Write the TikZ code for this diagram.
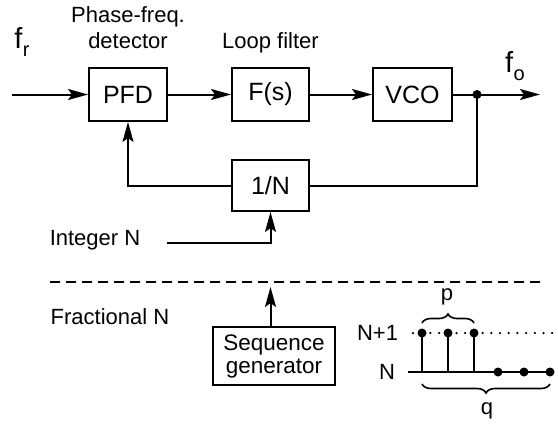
\documentclass[tikz,border=0pt]{standalone}
\usepackage{fontspec}
\setmainfont{Liberation Sans}
\usetikzlibrary{arrows.meta,decorations.pathreplacing,calc}
\begin{document}
\begin{tikzpicture}[x=1pt,y=-1pt,
  line width=2pt,
  blk/.style={draw,minimum height=53pt,inner sep=0pt,font=\fontsize{25}{29}\selectfont},
  lbl/.style={font=\fontsize{22}{26}\selectfont,inner sep=0pt,align=center},
  big/.style={font=\fontsize{29}{32}\selectfont,inner sep=0pt},
  arr/.style={-{Stealth[length=20pt,width=11pt,inset=4pt]}},
  jdot/.style={circle,fill,inner sep=0pt,minimum size=9pt},
  brc/.style={decorate,decoration={brace,amplitude=9pt},line width=1.6pt}]
\useasboundingbox (0,0) rectangle (558,426);
% blocks
\node[blk,minimum width=78pt] (pfd) at (128,94.5) {PFD};
\node[blk,minimum width=77pt] (fs) at (270.5,94.5) {F(s)};
\node[blk,minimum width=79pt] (vco) at (412.5,94.5) {VCO};
\node[blk,minimum width=77pt,minimum height=51pt] (oneN) at (270.5,185.5) {1/N};
\node[blk,minimum width=122pt,minimum height=58pt,align=center,font=\fontsize{22.5}{26}\selectfont] (seq) at (274,356) {Sequence\\[-3pt]generator};
% labels
\node[lbl] (lpfd) at (128,28) {Phase-freq.\\[0pt]detector};
\node[lbl] (llf) at (270.5,43) {Loop filter};
\node[big] (fr) at (22,42) {f\kern0.5pt\raisebox{-8pt}{\fontsize{20}{21}\selectfont r}};
\node[big] (fo) at (515,66) {f\kern0.5pt\raisebox{-8pt}{\fontsize{20}{21}\selectfont o}};
\node[lbl] (intN) at (95,240) {Integer N};
\node[lbl] (fracN) at (110,317) {Fractional N};
% coordinates
\coordinate (in) at (12,94.5);
\coordinate (j) at (477,94.5);
\coordinate (out) at (540,94.5);
\coordinate (ist) at (167,243);
\coordinate (dl1) at (50,282);
\coordinate (dl2) at (540,282);
\coordinate (sqt) at (270.5,287);
% forward path
\draw[arr] (in) -- (pfd.west);
\draw[arr] (pfd.east) -- (fs.west);
\draw[arr] (fs.east) -- (vco.west);
\draw[arr] (vco.east) -- (out);
\node[jdot] (jd) at (j) {};
% feedback
\draw (j) |- (oneN.east);
\draw[arr] (oneN.west) -| (pfd.south);
\draw[arr] (ist) -| (oneN.south);
% divider
\draw[dash pattern=on 10pt off 6pt] (dl1) -- (dl2);
\draw[arr] (seq.north -| sqt) -- (sqt);
% sequence plot
\node[lbl,anchor=east] (np1) at (399,333) {N+1};
\node[lbl,anchor=east] (nn) at (396,372) {N};
\draw[line width=2.5pt,line cap=round,dash pattern=on 0pt off 8.7pt] (413,333) -- (558,333);
\draw (408,372) -- (553,372);
\foreach \x in {422,448,474} {
  \draw (\x,333) -- (\x,372);
  \node[jdot] at (\x,333) {};
}
\foreach \x in {498,524,550} {
  \node[jdot] at (\x,372) {};
}
\draw[brc] (422,323) -- (474,323);
\node[lbl] (pl) at (447,297) {p};
\draw[brc] (550,384) -- (422,384);
\node[lbl] (ql) at (487,411) {q};
\end{tikzpicture}
\end{document}
